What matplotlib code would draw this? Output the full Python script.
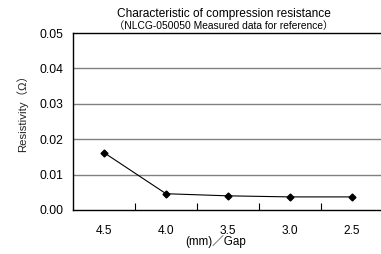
import matplotlib
matplotlib.use("Agg")
import matplotlib.pyplot as plt
from matplotlib.ticker import FixedLocator

gaps = ["4.5", "4.0", "3.5", "3.0", "2.5"]
resistivity = [0.0162, 0.0046, 0.0040, 0.0037, 0.0037]
yticks = [0.00, 0.01, 0.02, 0.03, 0.04, 0.05]

fam = ["Liberation Sans", "Noto Sans CJK JP", "DejaVu Sans"]
plt.rcParams['font.family'] = fam

W, H = 381, 254
fig = plt.figure(figsize=(W / 100, H / 100), dpi=100)
ax = fig.add_axes([73 / W, 1 - 210 / H, 310 / W, 177 / H])

x = list(range(len(gaps)))
ax.plot(x, resistivity, color="black", lw=0.8, marker="D", ms=3.5, zorder=3)

ax.set_xlim(-0.5, len(gaps) - 0.5)
ax.set_ylim(0, 0.05)
ax.set_yticks(yticks)
ax.set_yticklabels([f"{v:.2f}" for v in yticks], fontsize=8.7)
ax.set_xticks(x)
ax.set_xticklabels(gaps, fontsize=8.6)
ax.tick_params(axis="x", which="major", length=0, pad=10.5)
ax.xaxis.set_minor_locator(FixedLocator([i + 0.5 for i in range(len(gaps) - 1)]))
ax.tick_params(axis="x", which="minor", direction="in", length=5, width=0.8, color="black")
ax.tick_params(axis="y", length=0, pad=7)

for v in yticks[1:-1]:
    ax.axhline(v, color="#808080", lw=1.0, zorder=1)

for s in ["left", "bottom", "top"]:
    ax.spines[s].set_color("black")
    ax.spines[s].set_linewidth(1.0)
ax.spines["right"].set_visible(False)

fig.text(22 / W, 1 - 111 / H, "Resistivity（Ω）", rotation=90,
         ha="center", va="center", fontsize=8.2, color="#222222")
fig.text(216 / W, 1 - 242 / H, "(mm)／Gap", ha="center", va="center", fontsize=8.4)

fig.text(224 / W, 1 - 14 / H, "Characteristic of compression resistance",
         ha="center", va="center", fontsize=8.6)
fig.text(224 / W, 1 - 26 / H, "（NLCG-050050 Measured data for reference）",
         ha="center", va="center", fontsize=7.4)

fig.savefig("out.png", dpi=100)
